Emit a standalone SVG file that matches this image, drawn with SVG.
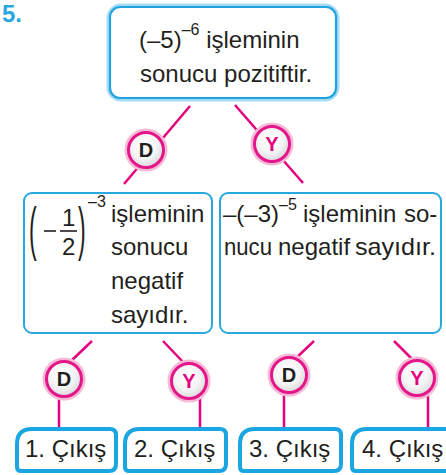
<svg xmlns="http://www.w3.org/2000/svg" width="446" height="475" viewBox="0 0 446 475">
<defs>
<radialGradient id="cg" cx="0.45" cy="0.4" r="0.6">
<stop offset="0" stop-color="#ffffff"/>
<stop offset="0.6" stop-color="#f4f4f5"/>
<stop offset="1" stop-color="#d9d9dc"/>
</radialGradient>
<style>
text{font-family:"Liberation Sans",Arial,sans-serif;fill:#231f20;font-size:24px}
.sup{font-size:16px}
.lbl{font-family:"Liberation Sans",Arial,sans-serif;font-weight:bold;font-size:20px;text-anchor:middle}
.ld{fill:#231f20}
.ly{fill:#e5007e}
.halo{fill:none;stroke:#f6b9d6;stroke-width:4}
.ring{fill:url(#cg);stroke:#e4168a;stroke-width:3}
.con line{stroke:#e5007e;stroke-width:2.5;stroke-linecap:butt}
.mid{fill:#fff;stroke:#29a8e0;stroke-width:2}
.out{fill:#fff;stroke:#1ba6e1;stroke-width:4;stroke-linejoin:round}
</style>
</defs>
<rect width="446" height="475" fill="#fff"/>
<text x="2" y="22" style="font-weight:bold;font-size:24px;fill:#29a8e0">5.</text>

<g id="connectors" class="con">
<line x1="190" y1="106" x2="124" y2="184"/>
<line x1="235" y1="105" x2="303" y2="183"/>
<line x1="92" y1="341" x2="70" y2="362"/>
<line x1="59" y1="396" x2="59" y2="428"/>
<line x1="163" y1="341" x2="183" y2="362"/>
<line x1="200" y1="396" x2="200" y2="428"/>
<line x1="314" y1="341" x2="294" y2="360"/>
<line x1="284" y1="394" x2="284" y2="428"/>
<line x1="394" y1="341" x2="413" y2="360"/>
<line x1="428" y1="394" x2="428" y2="428"/>
</g>

<g id="top">
<rect x="110" y="7" width="226" height="91" rx="11" fill="none" stroke="#a7dbf4" stroke-width="7"/>
<rect x="110" y="7" width="226" height="91" rx="10" fill="#fff" stroke="#1fa3e0" stroke-width="2.2"/>
<text x="139" y="48">(–5)<tspan class="sup" dy="-13">–6</tspan><tspan dy="13"> işleminin</tspan></text>
<text x="140" y="82">sonucu pozitiftir.</text>
</g>

<g id="d1"><circle cx="146" cy="150" r="19.5" class="halo"/><circle cx="146" cy="150" r="17.5" class="ring"/><text x="146" y="157" class="lbl ld">D</text></g>
<g id="y1"><circle cx="272" cy="144" r="19.5" class="halo"/><circle cx="272" cy="144" r="17.5" class="ring"/><text x="272" y="151" class="lbl ly">Y</text></g>

<g id="left">
<rect x="24" y="193" width="188" height="140" rx="8" class="mid"/>
<text transform="translate(29,248.5) scale(1,2.6)" style="font-size:23px">(</text>
<text transform="translate(78,248.5) scale(1,2.6)" style="font-size:23px">)</text>
<line x1="44" y1="231" x2="56" y2="231" stroke="#231f20" stroke-width="1.6"/>
<line x1="60" y1="231" x2="77" y2="231" stroke="#231f20" stroke-width="1.6"/>
<text x="62" y="226">1</text>
<text x="62" y="255">2</text>
<text x="88" y="207" class="sup">–3</text>
<text x="111" y="222">işleminin</text>
<text x="111" y="255">sonucu</text>
<text x="111" y="289">negatif</text>
<text x="111" y="323">sayıdır.</text>
</g>

<g id="right">
<rect x="220" y="193" width="221" height="140" rx="8" class="mid"/>
<text x="223" y="222">–(–3)<tspan class="sup" dy="-12">–5</tspan><tspan x="303" dy="12">işleminin</tspan><tspan x="404">so-</tspan></text>
<text x="224" y="255" textLength="48" lengthAdjust="spacingAndGlyphs">nucu</text>
<text x="278" y="255">negatif</text>
<text x="355" y="255" textLength="81" lengthAdjust="spacingAndGlyphs">sayıdır.</text>
</g>

<g id="d2"><circle cx="64" cy="379" r="19.5" class="halo"/><circle cx="64" cy="379" r="17.5" class="ring"/><text x="64" y="386" class="lbl ld">D</text></g>
<g id="y2"><circle cx="189" cy="381" r="19.5" class="halo"/><circle cx="189" cy="381" r="17.5" class="ring"/><text x="189" y="388" class="lbl ly">Y</text></g>
<g id="d3"><circle cx="289" cy="375" r="19.5" class="halo"/><circle cx="289" cy="375" r="17.5" class="ring"/><text x="289" y="382" class="lbl ld">D</text></g>
<g id="y3"><circle cx="417" cy="378" r="19.5" class="halo"/><circle cx="417" cy="378" r="17.5" class="ring"/><text x="417" y="385" class="lbl ly">Y</text></g>

<g id="out1"><path class="out" d="M17,444 Q17,429 32,429 L110,429 Q116,429 116,435 L116,464 Q116,471 109,471 L21,471 Q17,471 17,467 Z"/><text x="25" y="457">1. Çıkış</text></g>
<g id="out2"><path class="out" d="M125,444 Q125,429 140,429 L220,429 Q226,429 226,435 L226,464 Q226,471 219,471 L129,471 Q125,471 125,467 Z"/><text x="134" y="457">2. Çıkış</text></g>
<g id="out3"><path class="out" d="M240,444 Q240,429 255,429 L335,429 Q341,429 341,435 L341,464 Q341,471 334,471 L244,471 Q240,471 240,467 Z"/><text x="249" y="457">3. Çıkış</text></g>
<g id="out4"><path class="out" d="M352,444 Q352,429 367,429 L446,429 Q452,429 452,435 L452,464 Q452,471 445,471 L356,471 Q352,471 352,467 Z"/><text x="362" y="457">4. Çıkış</text></g>
</svg>
